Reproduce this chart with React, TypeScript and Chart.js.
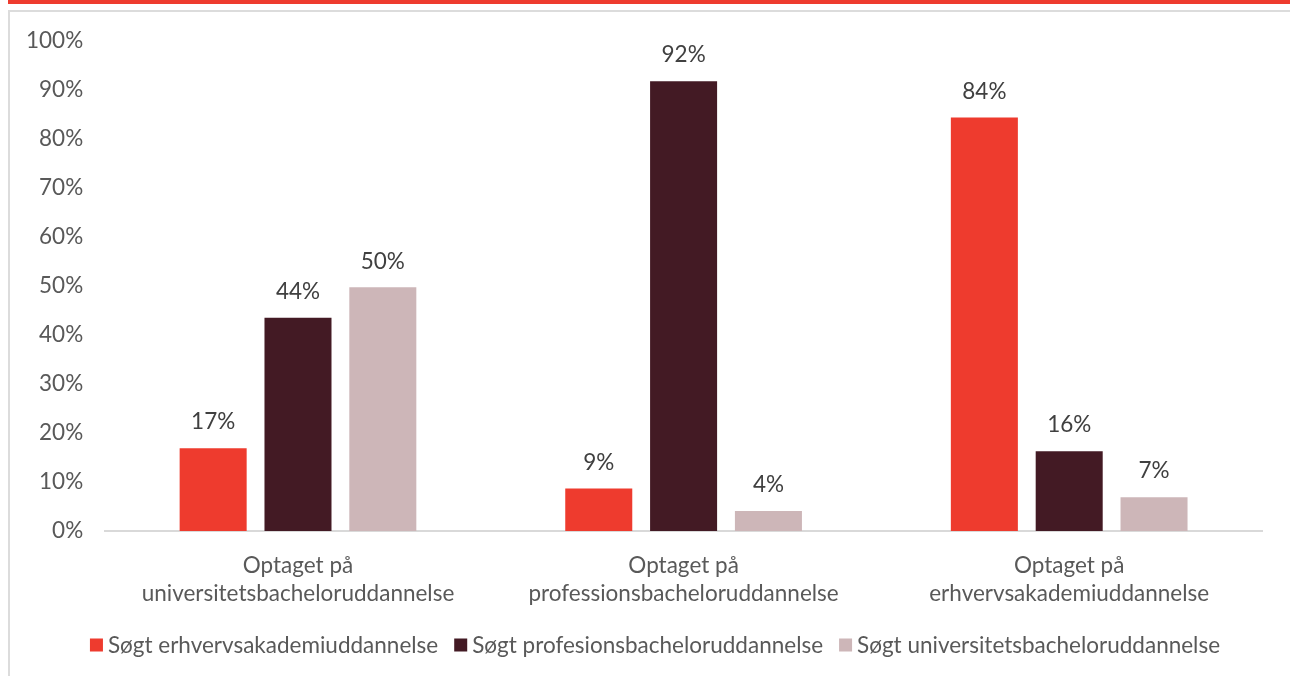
import React, { useEffect, useRef } from "react";
import { Chart, registerables } from "chart.js";

Chart.register(...registerables);

const categories: string[][] = [
  ["Optaget på", "universitetsbacheloruddannelse"],
  ["Optaget på", "professionsbacheloruddannelse"],
  ["Optaget på", "erhvervsakademiuddannelse"],
];
const seriesNames = [
  "Søgt erhvervsakademiuddannelse",
  "Søgt profesionsbacheloruddannelse",
  "Søgt universitetsbacheloruddannelse",
];
const erhvervsakademi = [16.9, 8.7, 84.3];
const profesionsbachelor = [43.5, 91.7, 16.3];
const universitetsbachelor = [49.7, 4.1, 6.9];
const seriesColors = ["#EE3B2E", "#431A24", "#CDB6B8"];
const yTicks = [0, 10, 20, 30, 40, 50, 60, 70, 80, 90, 100];

const FONT = "Lato, 'Open Sans', sans-serif";
const FS = 22.5;

const valueLabels = {
  id: "valueLabels",
  afterDatasetsDraw(chart: any) {
    const ctx = chart.ctx;
    ctx.save();
    ctx.font = `${FS}px ${FONT}`;
    ctx.fillStyle = "#404040";
    ctx.textAlign = "center";
    ctx.textBaseline = "middle";
    chart.data.datasets.forEach((ds: any, i: number) => {
      const meta = chart.getDatasetMeta(i);
      meta.data.forEach((el: any, j: number) => {
        const v = ds.data[j];
        ctx.fillText(Math.round(v) + "%", el.x, el.y - 26);
      });
    });
    ctx.restore();
  },
};

// Compact legend: 13px square, 5px gap to text, 16px between items.
const compactLegend = {
  id: "compactLegend",
  afterDraw(chart: any) {
    const ctx = chart.ctx;
    ctx.save();
    ctx.font = `${FS}px ${FONT}`;
    ctx.textBaseline = "middle";
    ctx.textAlign = "left";
    const box = 13;
    const gap = 5;
    const spacing = 16;
    const items = chart.data.datasets.map((ds: any) => ({
      label: ds.label,
      color: ds.backgroundColor,
      w: ctx.measureText(ds.label).width,
    }));
    const total =
      items.reduce((s: number, it: any) => s + box + gap + it.w, 0) + spacing * (items.length - 1);
    let x = chart.width / 2 + 5 - total / 2;
    const y = chart.height - 31;
    items.forEach((it: any) => {
      ctx.fillStyle = it.color;
      ctx.fillRect(x, y - box / 2, box, box);
      x += box + gap;
      ctx.fillStyle = "#595959";
      ctx.fillText(it.label, x, y + 1);
      x += it.w + spacing;
    });
    ctx.restore();
  },
};

export default function App() {
  const ref = useRef<HTMLCanvasElement | null>(null);
  useEffect(() => {
    if (!ref.current) return;
    const chart = new Chart(ref.current, {
      type: "bar",
      data: {
        labels: categories,
        datasets: [erhvervsakademi, profesionsbachelor, universitetsbachelor].map((d, i) => ({
          label: seriesNames[i],
          data: d,
          backgroundColor: seriesColors[i],
          borderWidth: 0,
          categoryPercentage: 0.66,
          barPercentage: 0.79,
        })),
      },
      options: {
        animation: false,
        responsive: false,
        maintainAspectRatio: false,
        layout: { padding: { left: -6, right: 28, top: 6, bottom: 48 } },
        plugins: {
          tooltip: { enabled: false },
          legend: { display: false },
        },
        scales: {
          x: {
            grid: { display: false, drawTicks: false },
            border: { display: true, color: "#D9D9D9", width: 2 },
            ticks: {
              color: "#595959",
              font: { family: FONT, size: FS, lineHeight: 1.22 },
              padding: 21,
              maxRotation: 0,
            },
          },
          y: {
            min: 0,
            max: 100,
            afterBuildTicks: (axis: any) => {
              axis.ticks = yTicks.map((v) => ({ value: v }));
            },
            grid: { display: false, drawTicks: false },
            border: { display: false },
            ticks: {
              color: "#595959",
              font: { family: FONT, size: FS },
              padding: 22,
              callback: (v: any) => v + "%",
            },
          },
        },
      },
      plugins: [valueLabels, compactLegend],
    });
    return () => chart.destroy();
  }, []);

  return (
    <div style={{ position: "fixed", left: 0, top: 0, width: 1290, height: 676, background: "#fff", overflow: "hidden" }}>
      <div style={{ position: "absolute", left: 8, top: 0, width: 1282, height: 4, background: "#EE3B2E" }} />
      <div
        style={{
          position: "absolute",
          left: 8,
          top: 10,
          width: 1300,
          height: 700,
          borderLeft: "2px solid #DCDCDC",
          borderTop: "2px solid #DCDCDC",
          boxSizing: "border-box",
        }}
      />
      <canvas ref={ref} width={1280} height={671} style={{ position: "absolute", left: 10, top: 5, width: 1280, height: 671 }} />
    </div>
  );
}
